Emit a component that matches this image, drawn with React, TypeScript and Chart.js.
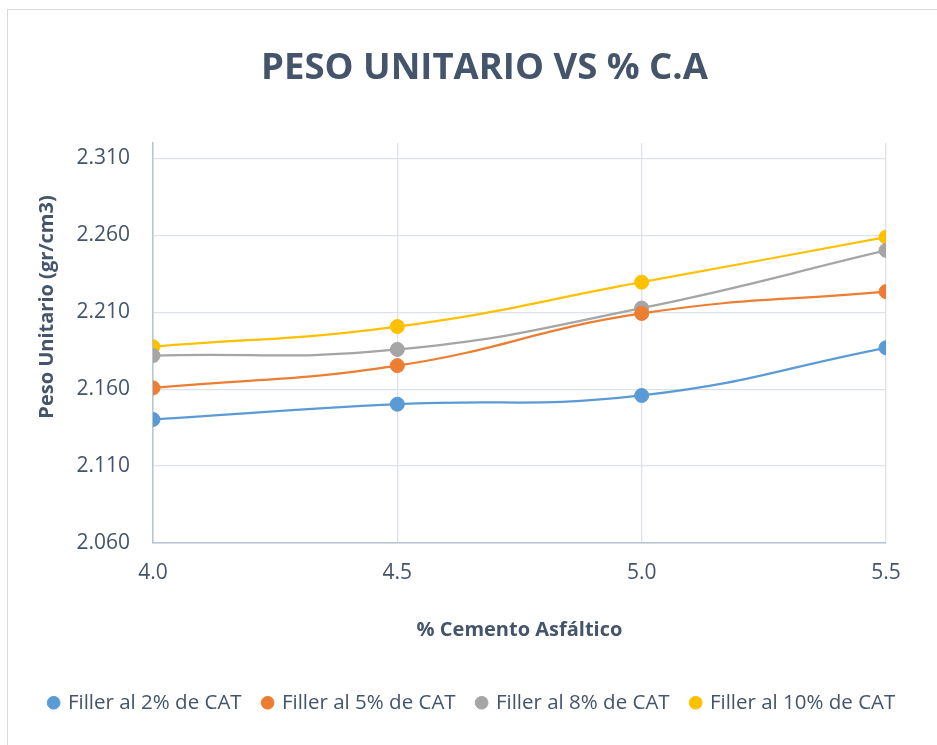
import React, { useEffect, useRef } from 'react';
import { Chart, registerables } from 'chart.js';

Chart.register(...registerables);

const TITLE = 'PESO UNITARIO VS % C.A';
const X_TITLE = '% Cemento Asfáltico';
const Y_TITLE = 'Peso Unitario (gr/cm3)';

const X_VALUES = [4.0, 4.5, 5.0, 5.5];
const X_TICKS = [4.0, 4.5, 5.0, 5.5];
const Y_TICKS = [2.06, 2.11, 2.16, 2.21, 2.26, 2.31];
const Y_MIN = 2.06;
const Y_MAX = 2.32;

const SERIES_NAMES = [
  'Filler al 2% de CAT',
  'Filler al 5% de CAT',
  'Filler al 8% de CAT',
  'Filler al 10% de CAT',
];
const FILLER_2 = [2.1403, 2.1502, 2.1559, 2.1869];
const FILLER_5 = [2.1608, 2.1753, 2.2092, 2.2234];
const FILLER_8 = [2.1818, 2.1858, 2.2127, 2.2502];
const FILLER_10 = [2.1876, 2.2007, 2.2295, 2.2588];
const SERIES_VALUES = [FILLER_2, FILLER_5, FILLER_8, FILLER_10];
const COLORS = ['#5B9BD5', '#ED7D31', '#A5A5A5', '#FFC000'];

const TEXT_COLOR = '#44546A';
const GRID_COLOR = '#DDE2E9';
const AXIS_COLOR = '#B9C3D1';
const FONT = "'Open Sans', sans-serif";

const yTitlePlugin = {
  id: 'yTitleCustom',
  afterDraw(chart: any) {
    const { ctx, chartArea } = chart;
    ctx.save();
    ctx.translate(chartArea.left - 106, (chartArea.top + chartArea.bottom) / 2 - 36);
    ctx.rotate(-Math.PI / 2);
    ctx.fillStyle = TEXT_COLOR;
    ctx.font = `bold 20px ${FONT}`;
    ctx.textAlign = 'center';
    ctx.textBaseline = 'middle';
    ctx.fillText(Y_TITLE, 0, 0);
    ctx.restore();
  },
};

// shift the legend block slightly left, as in the reference
const legendShiftPlugin = {
  id: 'legendShift',
  afterLayout(chart: any) {
    const lg = chart.legend;
    if (lg) {
      lg.left -= 12;
      lg.right -= 12;
    }
  },
};

export default function App() {
  const canvasRef = useRef<HTMLCanvasElement | null>(null);

  useEffect(() => {
    if (!canvasRef.current) return;
    const padL = 38;
    const padR = 6;
    const padB = 22;
    const legendPad = 22;
    const legendFont = 20.5;
    const legendHeight = legendFont + legendPad + 10;
    const chart = new Chart(canvasRef.current, {
      type: 'line',
      data: {
        datasets: SERIES_VALUES.map((vals, i) => ({
          label: SERIES_NAMES[i],
          data: X_VALUES.map((x, j) => ({ x, y: vals[j] })),
          borderColor: COLORS[i],
          backgroundColor: COLORS[i],
          pointBackgroundColor: COLORS[i],
          pointBorderColor: COLORS[i],
          borderWidth: 2.25,
          pointRadius: 7,
          pointBorderWidth: 1,
          tension: 0.45,
          fill: false,
          xAxisID: 'x',
          yAxisID: 'y',
        })),
      },
      plugins: [yTitlePlugin, legendShiftPlugin],
      options: {
        responsive: false,
        animation: false,
        layout: { padding: { left: padL, right: padR, top: 0, bottom: padB } },
        plugins: {
          title: {
            display: true,
            text: TITLE,
            color: TEXT_COLOR,
            font: { family: FONT, size: 36.5, weight: 'bold' },
            padding: { top: 47.1, bottom: 52.1 },
          },
          legend: {
            display: true,
            position: 'bottom',
            labels: {
              usePointStyle: true,
              pointStyle: 'circle',
              boxWidth: 8,
              boxHeight: 9,
              padding: legendPad,
              color: TEXT_COLOR,
              font: { family: FONT, size: legendFont },
            },
          },
          tooltip: { enabled: false },
        },
        scales: {
          x: {
            type: 'linear',
            min: 4.0,
            max: 5.5,
            afterBuildTicks: (scale: any) => {
              scale.ticks = X_TICKS.map((v) => ({ value: v }));
            },
            afterFit: (scale: any) => {
              scale.height = 745 - padB - legendHeight - 543;
            },
            ticks: {
              color: TEXT_COLOR,
              font: { family: FONT, size: 21 },
              padding: 17,
              callback: (v: any) => Number(v).toFixed(1),
            },
            grid: { color: GRID_COLOR, lineWidth: 1.3, drawTicks: false },
            border: { color: AXIS_COLOR, width: 1.5 },
            title: {
              display: true,
              text: X_TITLE,
              color: TEXT_COLOR,
              font: { family: FONT, size: 20, weight: 'bold' },
              padding: { top: 0, bottom: 28.5 },
            },
          },
          y: {
            type: 'linear',
            position: 'left',
            min: Y_MIN,
            max: Y_MAX,
            afterBuildTicks: (scale: any) => {
              scale.ticks = Y_TICKS.map((v) => ({ value: v }));
            },
            afterFit: (scale: any) => {
              scale.width = 153 - padL;
            },
            ticks: {
              color: TEXT_COLOR,
              font: { family: FONT, size: 21 },
              padding: 23,
              callback: (v: any) => Number(v).toFixed(3),
            },
            grid: { color: GRID_COLOR, lineWidth: 1.3, drawTicks: false },
            border: { color: AXIS_COLOR, width: 1.5 },
          },
          spacer: {
            type: 'linear',
            position: 'right',
            display: true,
            grid: { display: false, drawTicks: false },
            border: { display: false },
            ticks: { display: false },
            afterFit: (scale: any) => {
              scale.width = 937 - 886 - padR;
            },
          },
        },
      },
    });
    return () => chart.destroy();
  }, []);

  return (
    <>
      <div
        style={{
          position: 'fixed',
          left: 7,
          top: 9,
          width: 940,
          height: 745,
          border: '1px solid #D9D9D9',
          boxSizing: 'border-box',
        }}
      />
      <div style={{ position: 'fixed', left: 0, top: 0, width: 937, height: 745 }}>
        <canvas ref={canvasRef} width={937} height={745} style={{ display: 'block' }} />
      </div>
    </>
  );
}
